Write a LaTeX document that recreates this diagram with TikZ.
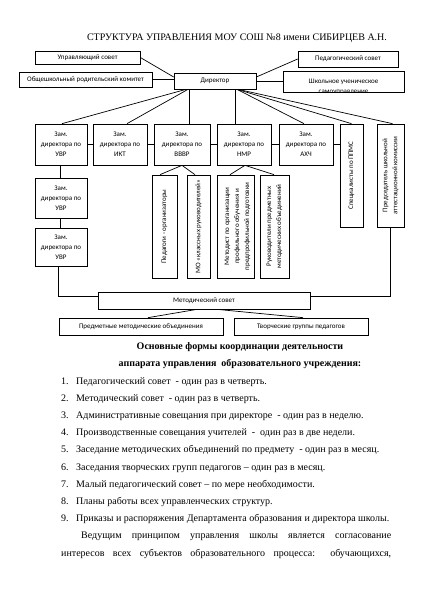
\documentclass[tikz,border=0pt]{standalone}
\usepackage{fontspec}
\setmainfont{Liberation Serif}
\newfontfamily\boxfont{Carlito}
\newcommand\bxf{\boxfont\fontsize{7}{10}\selectfont}
\newcommand\txf{\fontsize{10}{12}\selectfont}
\begin{document}
\begin{tikzpicture}[x=1pt,y=-1pt,
  box/.style={draw, line width=0.7pt, inner sep=0pt, font=\bxf, align=center},
  con/.style={line width=0.7pt},
  vtext/.style={path picture={\node[rotate=90,font=\bxf,align=center] at (path picture bounding box.center) {#1};}},
  txt/.style={inner sep=0pt, font=\txf, anchor=base west},
  ]
\useasboundingbox (0,0) rectangle (424,600);
% title
\node[inner sep=0pt, font=\txf, anchor=base] (title) at (237,40.5) {СТРУКТУРА УПРАВЛЕНИЯ МОУ СОШ №8 имени СИБИРЦЕВ А.Н.};
% top boxes
\node[box, minimum width=105pt, minimum height=13pt] (upr) at (87.5,57.5) {Управляющий совет};
\node[box, minimum width=133pt, minimum height=15pt] (rod) at (85.5,79.5) {Общешкольный родительский комитет};
\node[box, minimum width=82pt, minimum height=16pt] (dir) at (215,81) {Директор};
\node[box, minimum width=100pt, minimum height=16pt] (ped) at (348,59) {Педагогический совет};
\node[box, minimum width=121pt, minimum height=21pt,
  path picture={\node[font=\bxf,align=center] at ([yshift=-5pt]path picture bounding box.center) {Школьное ученическое\\самоуправление};}] (shk) at (343.5,81.5) {};
% row
\node[box, minimum width=52pt, minimum height=41pt] (uvr1) at (61,144.5) {Зам.\\директора по\\УВР};
\node[box, minimum width=54pt, minimum height=41pt] (ikt) at (120,144.5) {Зам.\\директора по\\ИКТ};
\node[box, minimum width=56pt, minimum height=41pt] (vvvr) at (182,144.5) {Зам.\\директора по\\ВВВР};
\node[box, minimum width=54pt, minimum height=41pt] (nmr) at (244,144.5) {Зам.\\директора по\\НМР};
\node[box, minimum width=54pt, minimum height=41pt] (axch) at (306,144.5) {Зам.\\директора по\\АХЧ};
\node[box, minimum width=23pt, minimum height=103pt, vtext={Специалисты по ППМС}] (ppms) at (351.5,175.5) {};
\node[box, minimum width=27pt, minimum height=103pt, vtext={Председатель школьной\\аттестационной комиссии}] (pred) at (390.5,175.5) {};
% left column
\node[box, minimum width=52pt, minimum height=40pt] (uvr2) at (61,198) {Зам.\\директора по\\УВР};
\node[box, minimum width=52pt, minimum height=38pt] (uvr3) at (61,247) {Зам.\\директора по\\УВР};
% vertical boxes
\node[box, minimum width=25pt, minimum height=103pt, vtext={Педагоги - организаторы}] (pedorg) at (164.5,226.5) {};
\node[box, minimum width=23pt, minimum height=103pt, vtext={МО «классных руководителей»}] (mo) at (198.5,226.5) {};
\node[box, minimum width=37pt, minimum height=103pt,
  path picture={\node[rotate=90,font=\bxf,align=center] at ([xshift=2pt]path picture bounding box.center) {Методист по организации\\профильного обучения и\\предпрофильной подготовки};}] (metod) at (235.5,226.5) {};
\node[box, minimum width=29pt, minimum height=103pt, vtext={Руководители предметных\\методических объединений}] (ruk) at (274.5,226.5) {};
% bottom boxes
\node[box, minimum width=212pt, minimum height=17pt] (meth) at (204,300.5) {Методический совет};
\node[box, minimum width=164pt, minimum height=17pt] (predm) at (141,326.5) {Предметные методические объединения};
\node[box, minimum width=134pt, minimum height=17pt] (tvor) at (301,326.5) {Творческие группы педагогов};
% connectors top
\draw[con] (upr.east) -- ([yshift=4pt]dir.west);
\draw[con] (rod.east) -- (rod.east -| dir.west);
\draw[con] (ped.west) -- ([yshift=4pt]dir.east);
\draw[con] (dir.east) -- (dir.east -| shk.west);
% director fan
\draw[con] ([xshift=-29pt]dir.south) -- ([xshift=1pt]uvr1.north);
\draw[con] ([xshift=-27pt]dir.south) -- ([xshift=7pt]ikt.north);
\draw[con] ([xshift=-26pt]dir.south) -- ([xshift=-26pt]dir.south |- vvvr.north);
\draw[con] ([xshift=20pt]dir.south) -- ([xshift=20pt]dir.south |- nmr.north);
\draw[con] ([xshift=22pt]dir.south) -- ([xshift=-2pt]axch.north);
\draw[con] ([xshift=22pt]dir.south) -- (ppms.north);
\draw[con] ([xshift=23pt]dir.south) -- ([xshift=2pt]pred.north);
% row links
\draw[con] (uvr1.east) -- (ikt.west);
\draw[con] (ikt.east) -- (vvvr.west);
\draw[con] (vvvr.east) -- (nmr.west);
\draw[con] (nmr.east) -- (axch.west);
\draw[con] (axch.east) -- (axch.east -| ppms.west);
\draw[con] ([xshift=-1pt]uvr1.south) -- ([xshift=-1pt]uvr2.north);
\draw[con] ([xshift=-1pt]uvr2.south) -- ([xshift=-1pt]uvr3.north);
% sub-branches
\draw[con] (vvvr.south) -- ([xshift=-4.5pt]pedorg.north);
\draw[con] (vvvr.south) -- ([xshift=-3.5pt]mo.north);
\draw[con] ([xshift=1pt]nmr.south) -- ([xshift=-5.5pt]metod.north);
\draw[con] ([xshift=1pt]nmr.south) -- ([xshift=-0.5pt]ruk.north);
% to methodical council
\draw[con] ([xshift=-3pt]uvr3.south) |- ([yshift=4.5pt]meth.west);
\draw[con] (pred.south) |- ([yshift=4.5pt]meth.east);
\draw[con] ([xshift=-7pt]meth.south) -- ([xshift=7pt]predm.north);
\draw[con] ([xshift=13pt]meth.south) -- ([xshift=2pt]tvor.north);
% headings
\node[inner sep=0pt, font=\txf\bfseries, anchor=base] (h1) at (240,349.3) {Основные формы координации деятельности};
\node[inner sep=0pt, font=\txf\bfseries, anchor=base] (h2) at (240,366.6) {аппарата управления~ образовательного учреждения:};
% list
\node[txt] (n1) at (61,384) {1.};
\node[txt] (i1) at (76,384) {Педагогический совет~ - один раз в четверть.};
\node[txt] (n2) at (61,401.2) {2.};
\node[txt] (i2) at (76,401.2) {Методический совет~ - один раз в четверть.};
\node[txt] (n3) at (61,418.4) {3.};
\node[txt] (i3) at (76,418.4) {Административные совещания при директоре~ - один раз в неделю.};
\node[txt] (n4) at (61,435.6) {4.};
\node[txt] (i4) at (76,435.6) {Производственные совещания учителей~ - ~один раз в две недели.};
\node[txt] (n5) at (61,452.8) {5.};
\node[txt] (i5) at (76,452.8) {Заседание методических объединений по предмету~ - один раз в месяц.};
\node[txt] (n6) at (61,470) {6.};
\node[txt] (i6) at (76,470) {Заседания творческих групп педагогов – один раз в месяц.};
\node[txt] (n7) at (61,487.2) {7.};
\node[txt] (i7) at (76,487.2) {Малый педагогический совет – по мере необходимости.};
\node[txt] (n8) at (61,504.4) {8.};
\node[txt] (i8) at (76,504.4) {Планы работы всех управленческих структур.};
\node[txt] (n9) at (61,521.6) {9.};
\node[txt] (i9) at (76,521.6) {Приказы и распоряжения Департамента образования и директора школы.};
% paragraph
\node[txt] (p1) at (81,538.8) {\makebox[310pt][s]{Ведущим принципом управления школы является согласование}};
\node[txt] (p2) at (61,556) {\makebox[330pt][s]{интересов всех субъектов образовательного процесса: обучающихся,}};
\end{tikzpicture}
\end{document}
